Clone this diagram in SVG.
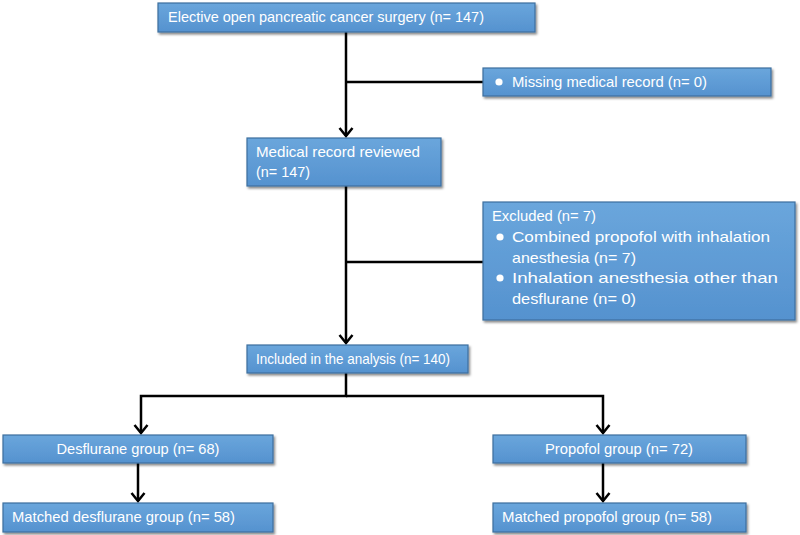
<svg xmlns="http://www.w3.org/2000/svg" width="800" height="535" viewBox="0 0 800 535">
<defs>
<linearGradient id="g" x1="0" y1="0" x2="0" y2="1">
<stop offset="0" stop-color="#6aa6dc"/>
<stop offset="1" stop-color="#5592cf"/>
</linearGradient>
<filter id="sh" x="-5%" y="-20%" width="110%" height="150%">
<feDropShadow dx="1.5" dy="2" stdDeviation="1.2" flood-color="#000" flood-opacity="0.45"/>
</filter>
<marker id="ar" markerWidth="12" markerHeight="16" refX="10" refY="8" orient="auto" markerUnits="userSpaceOnUse" viewBox="0 0 12 16">
<path d="M2,1.5 L10,8 L2,14.5" fill="none" stroke="#000" stroke-width="2.5"/>
</marker>
</defs>
<style>
.box{fill:url(#g);stroke:#3d6f9e;stroke-width:1.2;filter:url(#sh)}
.t{font-family:"Liberation Sans",Arial,sans-serif;font-size:14.5px;fill:#fff}
.c{text-anchor:middle}
.ln{fill:none;stroke:#000;stroke-width:2.5}
.b{fill:#fff}
</style>
<rect width="800" height="535" fill="#fff"/>
<g id="connectors">
<line class="ln" x1="346" y1="32" x2="346" y2="136" marker-end="url(#ar)"/>
<line class="ln" x1="346" y1="82" x2="483" y2="82"/>
<line class="ln" x1="346" y1="186" x2="346" y2="343" marker-end="url(#ar)"/>
<line class="ln" x1="346" y1="262" x2="483" y2="262"/>
<polyline class="ln" points="346,373 346,396 141,396 141,433" marker-end="url(#ar)"/>
<polyline class="ln" points="346,396 603,396 603,433" marker-end="url(#ar)"/>
<line class="ln" x1="138" y1="463" x2="138" y2="501" marker-end="url(#ar)"/>
<line class="ln" x1="603" y1="463" x2="603" y2="501" marker-end="url(#ar)"/>
</g>
<g id="n1"><rect class="box" x="158" y="3" width="377" height="29"/>
<text class="t" x="168" y="22" textLength="316" lengthAdjust="spacingAndGlyphs">Elective open pancreatic cancer surgery (n= 147)</text></g>
<g id="n2"><rect class="box" x="483" y="68" width="288" height="28"/>
<circle class="b" cx="499" cy="82" r="3.6"/>
<text class="t" x="512" y="87" textLength="195" lengthAdjust="spacingAndGlyphs">Missing medical record (n= 0)</text></g>
<g id="n3"><rect class="box" x="247" y="138" width="194" height="48"/>
<text class="t" x="256" y="157" textLength="164" lengthAdjust="spacingAndGlyphs">Medical record reviewed</text>
<text class="t" x="256" y="177" textLength="54" lengthAdjust="spacingAndGlyphs">(n= 147)</text></g>
<g id="n4"><rect class="box" x="483" y="202" width="312" height="118"/>
<text class="t" x="492" y="221" textLength="104" lengthAdjust="spacingAndGlyphs">Excluded (n= 7)</text>
<circle class="b" cx="500" cy="237" r="3.6"/>
<text class="t" x="512" y="242" textLength="258" lengthAdjust="spacingAndGlyphs">Combined propofol with inhalation</text>
<text class="t" x="512" y="263" textLength="124" lengthAdjust="spacingAndGlyphs">anesthesia (n= 7)</text>
<circle class="b" cx="500" cy="278" r="3.6"/>
<text class="t" x="512" y="283" textLength="266" lengthAdjust="spacingAndGlyphs">Inhalation anesthesia other than</text>
<text class="t" x="512" y="304" textLength="124" lengthAdjust="spacingAndGlyphs">desflurane (n= 0)</text></g>
<g id="n5"><rect class="box" x="247" y="345" width="221" height="28"/>
<text class="t" x="256" y="364" textLength="194" lengthAdjust="spacingAndGlyphs">Included in the analysis (n= 140)</text></g>
<g id="n6"><rect class="box" x="3" y="435" width="270" height="28"/>
<text class="t c" x="138" y="454" textLength="163" lengthAdjust="spacingAndGlyphs">Desflurane group (n= 68)</text></g>
<g id="n7"><rect class="box" x="3" y="503" width="270" height="29"/>
<text class="t" x="12" y="522" textLength="223" lengthAdjust="spacingAndGlyphs">Matched desflurane group (n= 58)</text></g>
<g id="n8"><rect class="box" x="493" y="435" width="253" height="28"/>
<text class="t c" x="619" y="454" textLength="148" lengthAdjust="spacingAndGlyphs">Propofol group (n= 72)</text></g>
<g id="n9"><rect class="box" x="493" y="503" width="253" height="29"/>
<text class="t" x="502" y="522" textLength="210" lengthAdjust="spacingAndGlyphs">Matched propofol group (n= 58)</text></g>
</svg>
